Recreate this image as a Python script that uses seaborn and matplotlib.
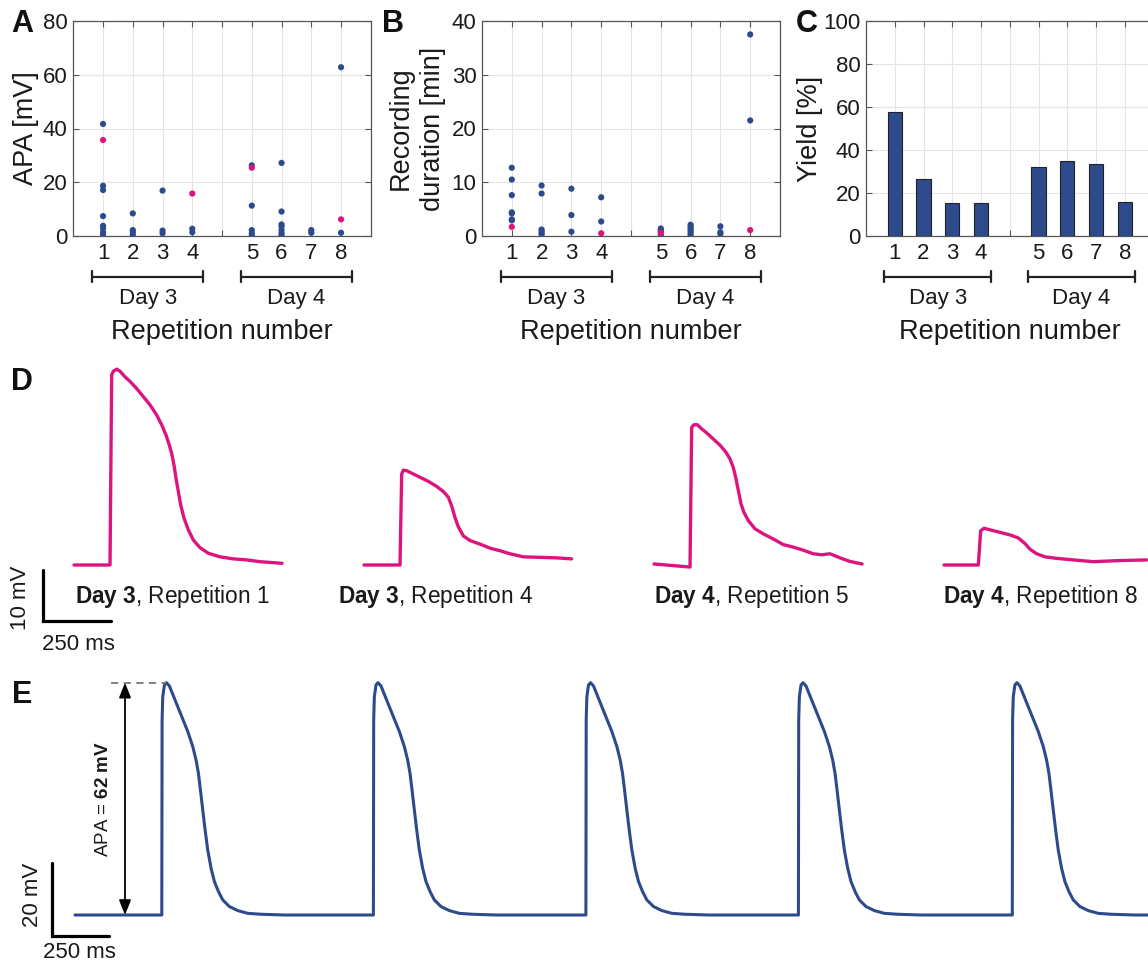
import matplotlib
matplotlib.use("Agg")
import matplotlib.pyplot as plt
import seaborn as sns
import numpy as np
import pandas as pd
from matplotlib import transforms

# ---------------- data ----------------
repetitions = [1, 2, 3, 4, 5, 6, 7, 8]
days = ["Day 3", "Day 4"]

# Panel A: action potential amplitude (mV), per repetition
apa_other = [
    [41.7, 18.7, 17.1, 7.4, 3.8, 2.9, 1.4, 0.6],
    [8.4, 2.2, 1.4, 0.4],
    [16.9, 2.0, 1.0],
    [2.7, 1.4],
    [26.3, 11.3, 2.2, 1.0, 0.2],
    [27.2, 9.1, 4.3, 3.5, 2.2, 1.0, 0.2],
    [2.2, 1.2],
    [62.8, 1.2],
]
apa_shown = [35.7, None, None, 15.8, 25.4, None, None, 6.2]

# Panel B: recording duration (min)
dur_other = [
    [12.7, 10.5, 7.6, 4.4, 4.2, 3.1, 2.9],
    [9.4, 7.9, 1.2, 0.9, 0.5, 0.3],
    [8.8, 3.9, 0.8],
    [7.2, 2.7],
    [1.4, 1.1, 0.8, 0.2],
    [2.1, 1.7, 1.4, 1.0, 0.6, 0.2],
    [1.8, 0.7, 0.4],
    [37.5, 21.5],
]
dur_shown = [1.7, None, None, 0.5, 0.6, None, None, 1.1]

# Panel C: yield (%)
yield_pct = [57.8, 26.4, 15.2, 15.2, 32.1, 34.9, 33.5, 16.0]

# Panel D: example traces (time ms from trace start, mV above baseline)
d_titles_day = ["Day 3", "Day 3", "Day 4", "Day 4"]
d_titles_rep = [1, 4, 5, 8]
d1_t = [0, 132.4, 138.5, 144.6, 156.9, 169.1, 187.5, 205.9, 230.4, 254.9, 279.4, 303.9, 322.3,
        338.2, 350.5, 360.3, 367.6, 375, 383.6, 392.2, 404.4, 420.3, 438.7, 463.2, 493.9, 536.8,
        585.8, 634.8, 683.8, 765]
d1_v = [0, 0, 37.25, 38.0, 38.4, 38.0, 36.9, 36.0, 34.6, 33.0, 31.4, 29.4, 27.5,
        25.5, 23.5, 21.6, 19.6, 17.0, 14.4, 11.8, 9.2, 6.9, 4.9, 3.4, 2.3, 1.6,
        1.2, 1.0, 0.65, 0.33]
d2_t = [0, 132.4, 138.5, 144.6, 156.9, 175.3, 205.9, 236.5, 267.2, 291.7, 310.0, 322.3, 334.6,
        346.8, 365.2, 389.7, 426.5, 463.2, 500, 536.8, 585.8, 647.1, 708.3, 763.5]
d2_v = [0, 0, 17.8, 18.6, 18.5, 18.0, 17.2, 16.4, 15.4, 14.4, 13.3, 11.6, 9.3,
        7.5, 5.7, 4.8, 4.1, 3.3, 2.8, 2.2, 1.6, 1.5, 1.4, 1.2]
d3_t = [0, 132.4, 138.5, 147.1, 159.3, 175.3, 193.6, 218.1, 242.6, 264.7, 279.4, 291.7, 301.5,
        310.0, 319.9, 330.9, 346.8, 371.3, 401.9, 438.7, 475.5, 512.3, 549.0, 585.8, 616.4,
        647.1, 683.8, 720.6, 765]
d3_v = [0.2, -0.4, 27.0, 27.5, 27.5, 26.7, 25.9, 24.7, 23.5, 22.1, 20.8, 19.1, 16.9,
        14.6, 12.0, 10.3, 8.7, 7.1, 6.1, 5.1, 4.0, 3.5, 2.9, 2.2, 2.0,
        2.2, 1.4, 0.7, 0.2]
d4_t = [0, 126.2, 134.8, 147.1, 169.1, 205.9, 242.6, 273.3, 297.8, 316.2, 340.7, 371.3, 414.2,
        475.5, 549, 634.8, 745.1]
d4_v = [0, 0, 6.7, 7.2, 6.9, 6.4, 5.9, 5.3, 4.2, 3.1, 2.2, 1.6, 1.3,
        1.0, 0.65, 0.85, 1.0]

# Panel E: one beat shape (ms from onset, mV) and beat onsets (ms from trace start)
e_beat_t = [0, 1.3, 4.2, 11.5, 20.2, 33.3, 55.2, 84.3, 113.4, 135.2, 149.8, 160.0, 168.7, 178.9,
            189.1, 200.7, 215.3, 229.8, 247.3, 266.2, 295.3, 331.7, 375.4, 433.6, 535.5]
e_beat_v = [0, 53.1, 59.5, 62.7, 63.3, 62.4, 59.0, 54.5, 50.0, 45.9, 42.2, 38.6, 34.1, 28.6,
            23.2, 17.7, 12.7, 9.1, 6.4, 4.1, 2.3, 1.2, 0.45, 0.2, 0]
e_onsets = [379, 1303, 2231, 3159, 4093]
e_length = 4686
e_apa_label = 62

# ---------------- style ----------------
BLUE = "#2d4a8c"
MAGENTA = "#dc1480"
W, H = 1148, 964

sns.set_theme(style="white")
plt.rcParams["font.family"] = ["Liberation Sans", "DejaVu Sans"]
plt.rcParams["mathtext.fontset"] = "custom"
plt.rcParams["mathtext.rm"] = "Liberation Sans"
plt.rcParams["mathtext.bf"] = "Liberation Sans:bold"
plt.rcParams["mathtext.it"] = "Liberation Sans:italic"

fig = plt.figure(figsize=(W / 100, H / 100), dpi=100)


def rect(l, t, r, b):
    return [l / W, 1 - b / H, (r - l) / W, (b - t) / H]


def ftext(x, y, s, **kw):
    fig.text(x / W, 1 - y / H, s, **kw)


positions = [r + (1 if r > 4 else 0) for r in repetitions]


def build_df(other, shown):
    rows = []
    for p, vals in zip(positions, other):
        for v in vals:
            rows.append((p, v, "other"))
    for p, v in zip(positions, shown):
        if v is not None:
            rows.append((p, v, "shown"))
    return pd.DataFrame(rows, columns=["pos", "val", "kind"])


def style_axes(ax, ylim, yticks):
    ax.set_xlim(0, 10)
    ax.set_ylim(*ylim)
    ax.set_xticks(range(1, 10))
    ax.set_xticklabels(["1", "2", "3", "4", "", "5", "6", "7", "8"])
    ax.set_yticks(yticks)
    ax.grid(True, color="#e4e4e4", lw=0.8)
    ax.set_axisbelow(True)
    for sp in ax.spines.values():
        sp.set_visible(True)
        sp.set_color("#555555")
        sp.set_linewidth(0.9)
    ax.tick_params(direction="in", length=4, width=0.8, color="#555555",
                   top=True, right=True, bottom=True, left=True,
                   labelsize=16, labelcolor="#1a1a1a")
    ax.tick_params(axis="x", pad=5)
    ax.tick_params(axis="y", pad=4)
    ax.set_xlabel("")
    trans = transforms.blended_transform_factory(ax.transData, ax.transAxes)
    for i, day in enumerate(days):
        c = 2.5 + 5 * i
        x0, x1 = c - 1.86, c + 1.86
        ax.plot([x0, x1], [-0.189, -0.189], transform=trans, clip_on=False, color="#222222", lw=1.6)
        for xe in (x0, x1):
            ax.plot([xe, xe], [-0.214, -0.164], transform=trans, clip_on=False, color="#222222", lw=1.6)
        ax.text(c, -0.29, day, transform=trans, ha="center", va="center", fontsize=16, color="#1a1a1a")
    ax.text(0.5, -0.445, "Repetition number", transform=ax.transAxes, ha="center", va="center",
            fontsize=19.5, color="#1a1a1a")


# ---------------- Panel A ----------------
axA = fig.add_axes(rect(73.3, 21, 370.8, 236))
dfA = build_df(apa_other, apa_shown)
sns.scatterplot(data=dfA, x="pos", y="val", hue="kind", palette={"other": BLUE, "shown": MAGENTA},
                s=20, linewidth=0, legend=False, ax=axA, zorder=3)
style_axes(axA, (0, 80), [0, 20, 40, 60, 80])
axA.set_ylabel("APA [mV]", fontsize=19.5, va="center", color="#1a1a1a")
axA.yaxis.set_label_coords(-0.158, 0.5)

# ---------------- Panel B ----------------
axB = fig.add_axes(rect(482, 21, 780, 236))
dfB = build_df(dur_other, dur_shown)
sns.scatterplot(data=dfB, x="pos", y="val", hue="kind", palette={"other": BLUE, "shown": MAGENTA},
                s=20, linewidth=0, legend=False, ax=axB, zorder=3)
style_axes(axB, (0, 40), [0, 10, 20, 30, 40])
axB.set_ylabel("Recording\nduration [min]", fontsize=19.5, va="center", linespacing=1.3,
               color="#1a1a1a")
axB.yaxis.set_label_coords(-0.219, 0.5)

# ---------------- Panel C ----------------
axC = fig.add_axes(rect(866, 21, 1153.5, 236))
sns.barplot(x=positions, y=yield_pct, native_scale=True, width=0.5, color=BLUE, saturation=1,
            edgecolor="#222222", linewidth=0.8, errorbar=None, ax=axC, zorder=3)
style_axes(axC, (0, 100), [0, 20, 40, 60, 80, 100])
axC.set_ylabel("Yield [%]", fontsize=19.5, va="center", color="#1a1a1a")
axC.yaxis.set_label_coords(-0.195, 0.5)

# ---------------- Panel D ----------------
D_PX_MS, D_PX_MV, D_BASE = 0.272, 5.1, 565
axD = fig.add_axes(rect(0, 340, W, 640))
axD.set_xlim(0, W / D_PX_MS)
axD.set_ylim((D_BASE - 640) / D_PX_MV, (D_BASE - 340) / D_PX_MV)
axD.set_axis_off()
d_left_px = [74, 364, 654, 944]
d_label_px = [75, 338, 654, 943]
for (tt, vv), lp, tx, day, rep in zip([(d1_t, d1_v), (d2_t, d2_v), (d3_t, d3_v), (d4_t, d4_v)],
                                      d_left_px, d_label_px, d_titles_day, d_titles_rep):
    sns.lineplot(x=np.array(tt) + lp / D_PX_MS, y=vv, sort=False, estimator=None,
                 color=MAGENTA, lw=2.4, ax=axD)
    ftext(tx, 597, r"$\mathbf{" + day.replace(" ", r"\ ") + "}$" + f", Repetition {rep}",
          ha="left", va="center", fontsize=16.3, color="#1a1a1a")
# scale bar D
sx = 43 / D_PX_MS
sy = (D_BASE - 621) / D_PX_MV
axD.plot([sx, sx, sx + 250], [sy + 10, sy, sy], color="black", lw=2.3, solid_joinstyle="miter",
         clip_on=False)
ftext(21, 598, "10 mV", rotation=90, ha="center", va="center", fontsize=16, color="#1a1a1a")
ftext(78.5, 645, "250 ms", ha="center", va="center", fontsize=16, color="#1a1a1a")

# ---------------- Panel E ----------------
E_PX_MS, E_PX_MV, E_BASE = 0.229, 3.67, 915
axE = fig.add_axes(rect(0, 660, W, 964))
axE.set_xlim(0, W / E_PX_MS)
axE.set_ylim((E_BASE - 964) / E_PX_MV, (E_BASE - 660) / E_PX_MV)
axE.set_axis_off()
e_start = 75 / E_PX_MS
et, ev = [0], [0]
for on in e_onsets:
    for a, b in zip(e_beat_t, e_beat_v):
        et.append(on + a)
        ev.append(b)
et.append(e_length)
ev.append(0)
sns.lineplot(x=np.array(et) + e_start, y=ev, sort=False, estimator=None, color=BLUE, lw=2.2, ax=axE)
peak = max(e_beat_v)
peak_t = e_start + e_onsets[0] + e_beat_t[int(np.argmax(e_beat_v))]
axE.plot([111 / E_PX_MS, peak_t], [peak, peak], color="#777777", lw=1.3, ls=(0, (4, 3)))
ax_x = 125 / E_PX_MS
axE.annotate("", xy=(ax_x, peak), xytext=(ax_x, 0),
             arrowprops=dict(arrowstyle="<|-|>,head_length=0.75,head_width=0.3", color="black",
                             lw=1.3, mutation_scale=12, shrinkA=0, shrinkB=0))
axE.text(103 / E_PX_MS, peak / 2, r"APA = $\mathbf{" + str(e_apa_label) + r"\ mV}$", rotation=90,
         ha="center", va="center", fontsize=13.5, color="#1a1a1a")
# scale bar E
sx = 51.7 / E_PX_MS
sy = (E_BASE - 936) / E_PX_MV
axE.plot([sx, sx, sx + 250], [sy + 20, sy, sy], color="black", lw=2.3, solid_joinstyle="miter",
         clip_on=False)
ftext(33, 895, "20 mV", rotation=90, ha="center", va="center", fontsize=16, color="#1a1a1a")
ftext(79, 953, "250 ms", ha="center", va="center", fontsize=16, color="#1a1a1a")

# ---------------- panel letters ----------------
for letter, (x, y) in zip("ABCDE", [(22, 24), (393, 24), (807, 24), (22, 382), (22, 695)]):
    ftext(x, y, letter, ha="center", va="center", fontsize=22, fontweight="bold", color="#111111")

fig.savefig("out.png", dpi=100)
